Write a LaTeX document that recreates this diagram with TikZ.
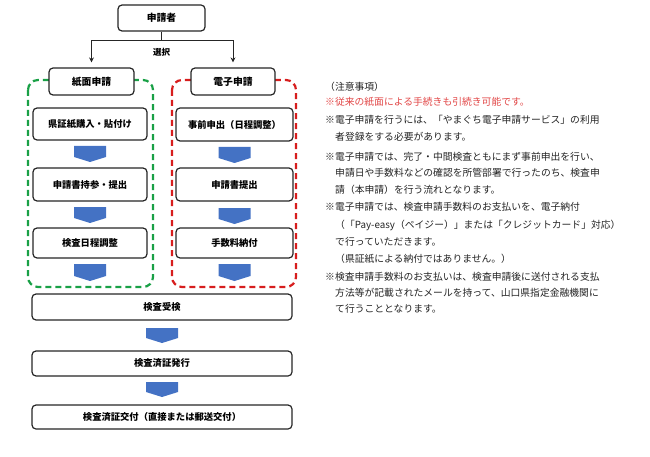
\documentclass[tikz,border=0pt]{standalone}
\usepackage{fontspec}
\setmainfont{Noto Sans CJK JP}
\usetikzlibrary{arrows.meta}
\definecolor{chevblue}{HTML}{4472C4}
\definecolor{dgreen}{RGB}{25,160,70}
\definecolor{dred}{RGB}{215,30,30}
\definecolor{notered}{RGB}{225,70,70}
\definecolor{notegray}{RGB}{35,35,35}
\tikzset{
  box/.style={draw=black!85, line width=1.2pt, rounded corners=4pt, fill=white,
    font=\bfseries\fontsize{9.3}{11}\selectfont, inner sep=0pt},
  headbox/.style={box, font=\bfseries\fontsize{9.8}{12}\selectfont},
  grp/.style={line width=2.2pt, dash pattern=on 6pt off 4pt, rounded corners=10pt},
  note/.style={anchor=west, inner sep=0pt, font=\fontsize{9.8}{12}\selectfont, text=notegray},
  conn/.style={line width=1pt, draw=black!85},
}
\newcommand{\chevron}[3]{\fill[chevblue] ({#1-16},#2) -- ({#1+16},#2) -- ({#1+16},{#3-5}) -- (#1,#3) -- ({#1-16},{#3-5}) -- cycle;}
\begin{document}
\begin{tikzpicture}[x=1pt,y=-1pt]
\useasboundingbox (0,0) rectangle (650,457);
% groups
\draw[grp, draw=dgreen] (28,80) rectangle (153,287);
\draw[grp, draw=dred] (172,80) rectangle (296,287);
% top
\node[headbox, minimum width=87pt, minimum height=26pt] (app) at (161.5,18) {申請者};
\node[headbox, minimum width=85pt, minimum height=27pt] (paper) at (91.5,81.5) {紙面申請};
\node[headbox, minimum width=84pt, minimum height=27pt] (elec) at (233,81.5) {電子申請};
\coordinate (j) at (161.5,41);
\draw[conn] (app.south) -- (j);
\draw[conn, -{Stealth[length=5pt,width=5pt]}] (j) -| ([yshift=5pt]paper.north);
\draw[conn, -{Stealth[length=5pt,width=5pt]}] (j) -| ([yshift=5pt]elec.north);
\node[font=\bfseries\fontsize{8.5}{10}\selectfont, inner sep=0pt] (sel) at (161.5,52) {選択};
% left steps
\node[box, minimum width=114pt, minimum height=32pt] (l1) at (90,124) {県証紙購入・貼付け};
\node[box, minimum width=114pt, minimum height=33pt] (l2) at (90,184.5) {申請書持参・提出};
\node[box, minimum width=114pt, minimum height=30pt] (l3) at (90,243) {検査日程調整};
\chevron{90}{146}{162}
\chevron{90}{207}{223}
\chevron{90}{264}{281}
% right steps
\node[box, minimum width=117pt, minimum height=33pt] (r1) at (234.5,124.5) {事前申出（日程調整）};
\node[box, minimum width=117pt, minimum height=33pt] (r2) at (234.5,184.5) {申請書提出};
\node[box, minimum width=117pt, minimum height=30pt] (r3) at (234.5,243) {手数料納付};
\chevron{234.5}{147}{163}
\chevron{234.5}{208}{224}
\chevron{234.5}{264}{281}
% bottom
\node[box, minimum width=260pt, minimum height=26pt] (b1) at (162,307) {検査受検};
\node[box, minimum width=260pt, minimum height=25pt] (b2) at (162,363.5) {検査済証発行};
\node[box, minimum width=260pt, minimum height=24pt] (b3) at (162,417) {検査済証交付（直接または郵送交付）};
\chevron{162}{328}{343}
\chevron{162}{382}{397}
% notes
\node[note] (n1) at (325,87) {（注意事項）};
\node[note, text=notered] (n2) at (325,102) {※従来の紙面による手続きも引続き可能です。};
\node[note] (n3) at (325,120) {※電子申請を行うには、「やまぐち電子申請サービス」の利用};
\node[note] (n4) at (335,137) {者登録をする必要があります。};
\node[note] (n5) at (325,157) {※電子申請では、完了・中間検査ともにまず事前申出を行い、};
\node[note] (n6) at (335,173) {申請日や手数料などの確認を所管部署で行ったのち、検査申};
\node[note] (n7) at (335,190) {請（本申請）を行う流れとなります。};
\node[note] (n8) at (325,207) {※電子申請では、検査申請手数料のお支払いを、電子納付};
\node[note] (n9) at (335,225) {（「Pay-easy（ペイジー）」または「クレジットカード」対応）};
\node[note] (n10) at (335,242) {で行っていただきます。};
\node[note] (n11) at (335,259) {（県証紙による納付ではありません。）};
\node[note] (n12) at (325,277) {※検査申請手数料のお支払いは、検査申請後に送付される支払};
\node[note] (n13) at (335,293) {方法等が記載されたメールを持って、山口県指定金融機関に};
\node[note] (n14) at (335,309) {て行うこととなります。};
\end{tikzpicture}
\end{document}
